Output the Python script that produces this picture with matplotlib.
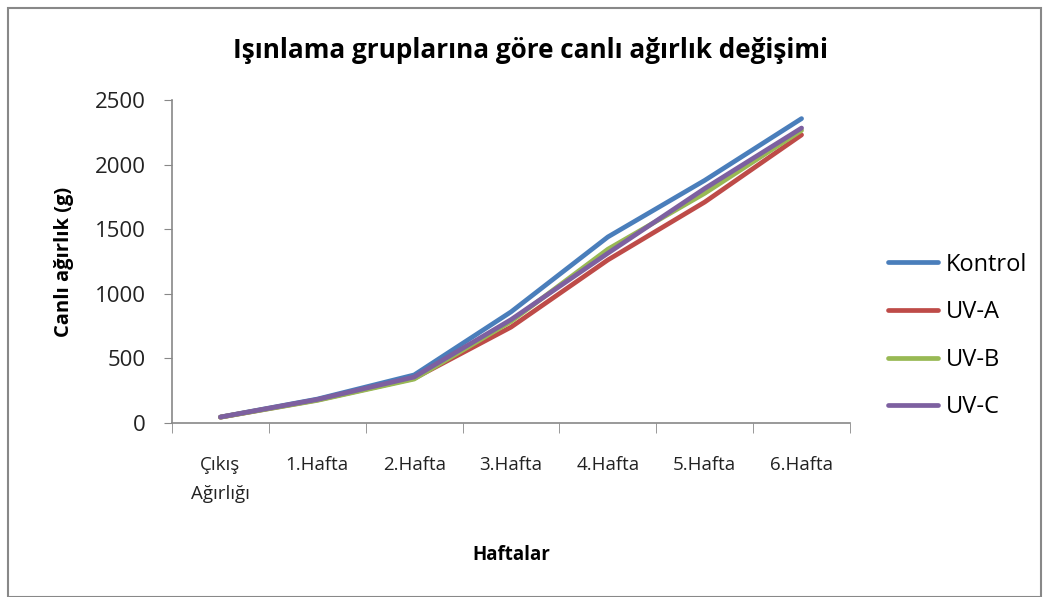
import matplotlib
matplotlib.use("Agg")
import matplotlib.pyplot as plt
from matplotlib.patches import Rectangle

plt.rcParams['font.family'] = ['Open Sans', 'DejaVu Sans']

categories = ["Çıkış\nAğırlığı", "1.Hafta", "2.Hafta", "3.Hafta", "4.Hafta", "5.Hafta", "6.Hafta"]
kontrol = [46, 185, 372, 860, 1440, 1878, 2356]
uv_a = [45, 178, 345, 742, 1262, 1710, 2230]
uv_b = [45, 175, 340, 786, 1345, 1778, 2265]
uv_c = [46, 182, 356, 800, 1314, 1815, 2283]
series_names = ["Kontrol", "UV-A", "UV-B", "UV-C"]
colors = ["#4A7EBB", "#BE4B48", "#98B954", "#7D60A0"]
yticks = [0, 500, 1000, 1500, 2000, 2500]

fig = plt.figure(figsize=(10.43, 5.97), dpi=100)
fig.patches.append(Rectangle((8/1043, 0), 1 - 8/1043 - 2/1043, 1 - 8/597,
                             transform=fig.transFigure, fill=False,
                             edgecolor="#888888", linewidth=1.5))
ax = fig.add_axes([172/1043, 1 - 423/597, 678/1043, 323/597])

x = list(range(len(categories)))
for vals, name, c in zip([kontrol, uv_a, uv_b, uv_c], series_names, colors):
    ax.plot(x, vals, color=c, linewidth=3.4, label=name, solid_capstyle='round')

ax.set_xlim(-0.5, len(categories) - 0.5)
ax.set_ylim(0, 2500)
ax.set_yticks(yticks)
ax.set_yticklabels([str(v) for v in yticks], fontsize=16, color="#222222")
ax.set_xticks(x)
ax.set_xticklabels(categories, fontsize=13.5, linespacing=1.75, color="#222222")
ax.set_xticks([i - 0.5 for i in range(len(categories) + 1)], minor=True)
ax.tick_params(axis='x', which='major', length=0, pad=24)
ax.tick_params(axis='x', which='minor', length=7, color="#888888", direction='out')
ax.tick_params(axis='y', length=6, color="#888888", direction='out', pad=13)
for s in ['top', 'right']:
    ax.spines[s].set_visible(False)
for s in ['left', 'bottom']:
    ax.spines[s].set_color("#888888")
    ax.spines[s].set_linewidth(1.2)

ax.set_ylabel("Canlı ağırlık (g)", fontsize=14.5, fontweight='bold')
ax.yaxis.set_label_coords((74 - 172) / 678, 0.5)
ax.set_xlabel("Haftalar", fontsize=13.5, fontweight='bold', va='top')
ax.xaxis.set_label_coords(0.5, (423 - 545) / 323)
fig.text(0.509, 1 - 50/597, "Işınlama gruplarına göre canlı ağırlık değişimi",
         ha='center', va='center', fontsize=18.8, fontweight='bold')

ax.legend(loc='center left', bbox_to_anchor=((888 - 172) / 678, (423 - 336) / 323),
          frameon=False, borderaxespad=0, borderpad=0,
          fontsize=17, labelspacing=1.0, handlelength=2.1, handletextpad=0.34)

fig.savefig("out.png", dpi=100)
